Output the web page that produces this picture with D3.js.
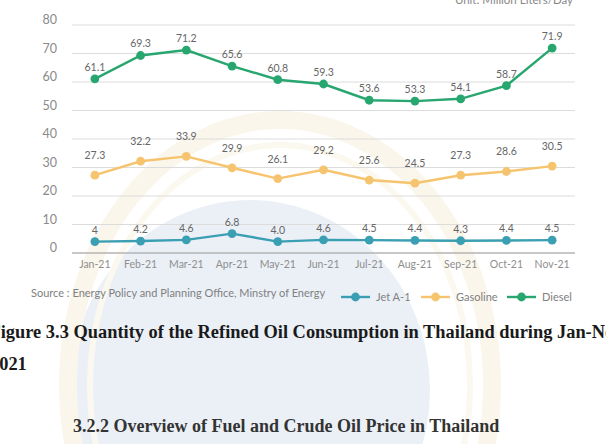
<!DOCTYPE html>
<html lang="en">
<head>
  <meta charset="UTF-8">
  <title>Refined Oil Consumption in Thailand</title>
  <script src="https://d3js.org/d3.v7.min.js"></script>
  <style>
    body { margin: 0; background: #fff; }
    svg { display: block; }
  </style>
</head>
<body>
  <svg width="606" height="444"></svg>
  <script>
    const width = 606, height = 444;

    const months = ["Jan-21", "Feb-21", "Mar-21", "Apr-21", "May-21", "Jun-21",
                    "Jul-21", "Aug-21", "Sep-21", "Oct-21", "Nov-21"];
    const jetA1 = [4, 4.2, 4.6, 6.8, 4.0, 4.6, 4.5, 4.4, 4.3, 4.4, 4.5];
    const jetLabels = ["4", "4.2", "4.6", "6.8", "4.0", "4.6", "4.5", "4.4", "4.3", "4.4", "4.5"];
    const gasoline = [27.3, 32.2, 33.9, 29.9, 26.1, 29.2, 25.6, 24.5, 27.3, 28.6, 30.5];
    const diesel = [61.1, 69.3, 71.2, 65.6, 60.8, 59.3, 53.6, 53.3, 54.1, 58.7, 71.9];
    const yTicks = [0, 10, 20, 30, 40, 50, 60, 70, 80];

    const series = [
      { name: "Jet A-1", values: jetA1, labels: jetLabels, color: "#3a9fb3", off: 8 },
      { name: "Gasoline", values: gasoline, labels: gasoline.map(d => d.toFixed(1)), color: "#f6c46e", off: 16 },
      { name: "Diesel", values: diesel, labels: diesel.map(d => d.toFixed(1)), color: "#28a66f", off: 8 }
    ];

    const svg = d3.select("svg");

    // faint watermark behind the page
    const wm = svg.append("g");
    wm.append("ellipse")
      .attr("cx", 250).attr("cy", 390).attr("rx", 180).attr("ry", 190)
      .attr("fill", "#ebf0f7");
    wm.append("ellipse")
      .attr("cx", 280).attr("cy", 385).attr("rx", 212).attr("ry", 265)
      .attr("fill", "none").attr("stroke", "#faf6eb").attr("stroke-width", 18);
    wm.append("ellipse")
      .attr("cx", 280).attr("cy", 385).attr("rx", 190).attr("ry", 240)
      .attr("fill", "none").attr("stroke", "#fbf8ef").attr("stroke-width", 6);

    const x = d3.scalePoint().domain(months).range([72, 575]).padding(0.5);
    const y = d3.scaleLinear().domain([0, 80]).range([253, 25]);

    // grid
    svg.append("g")
      .selectAll("line")
      .data(yTicks)
      .join("line")
      .attr("x1", 72).attr("x2", 575)
      .attr("y1", d => y(d)).attr("y2", d => y(d))
      .attr("stroke", d => d === 0 ? "#b5b5b5" : "#dcdcdc")
      .attr("stroke-width", d => d === 0 ? 1.6 : 1);

    // y tick labels
    svg.append("g")
      .selectAll("text")
      .data(yTicks)
      .join("text")
      .attr("x", 57)
      .attr("y", d => y(d) - 1)
      .attr("text-anchor", "end")
      .attr("font-family", "Lato, sans-serif")
      .attr("font-size", "12.5px")
      .attr("fill", "#8a8a8a")
      .text(d => d);

    // x labels
    svg.append("g")
      .selectAll("text")
      .data(months)
      .join("text")
      .attr("x", d => x(d))
      .attr("y", 268)
      .attr("text-anchor", "middle")
      .attr("font-family", "Lato, sans-serif")
      .attr("font-size", "10.5px")
      .attr("fill", "#8e8e8e")
      .text(d => d);

    svg.append("text")
      .attr("x", 573).attr("y", 4)
      .attr("text-anchor", "end")
      .attr("font-family", "Lato, sans-serif")
      .attr("font-size", "11.5px")
      .attr("fill", "#888")
      .text("Unit: Million Liters/Day");

    const line = d3.line().x((d, i) => x(months[i])).y(d => y(d));

    series.forEach(s => {
      const g = svg.append("g");
      g.append("path")
        .attr("d", line(s.values))
        .attr("fill", "none")
        .attr("stroke", s.color)
        .attr("stroke-width", 2.4);
      g.selectAll("circle")
        .data(s.values)
        .join("circle")
        .attr("cx", (d, i) => x(months[i]))
        .attr("cy", d => y(d))
        .attr("r", 4.4)
        .attr("fill", s.color);
      g.selectAll("text")
        .data(s.values)
        .join("text")
        .attr("x", (d, i) => x(months[i]))
        .attr("y", d => y(d) - s.off)
        .attr("text-anchor", "middle")
        .attr("font-family", "Lato, sans-serif")
        .attr("font-size", "10.5px")
        .attr("fill", "#666")
        .text((d, i) => s.labels[i]);
    });

    // source
    svg.append("text")
      .attr("x", 31).attr("y", 297)
      .attr("font-family", "Lato, sans-serif")
      .attr("font-size", "11px")
      .attr("fill", "#808080")
      .text("Source : Energy Policy and Planning Office, Minstry of Energy");

    // legend
    const legendX = [341, 421, 507];
    const legend = svg.append("g");
    series.forEach((s, i) => {
      const lg = legend.append("g").attr("transform", `translate(${legendX[i]},297)`);
      lg.append("line").attr("x1", 0).attr("x2", 29).attr("y1", 0).attr("y2", 0)
        .attr("stroke", s.color).attr("stroke-width", 2.4);
      lg.append("circle").attr("cx", 14.5).attr("cy", 0).attr("r", 4.4).attr("fill", s.color);
      lg.append("text").attr("x", 35).attr("y", 4)
        .attr("font-family", "Lato, sans-serif")
        .attr("font-size", "11px")
        .attr("fill", "#808080")
        .text(s.name);
    });

    // document text
    const serif = "'Liberation Serif', 'Times New Roman', serif";
    svg.append("text")
      .attr("x", -10.5).attr("y", 338)
      .attr("font-family", serif).attr("font-weight", "bold")
      .attr("font-size", "18.4px").attr("fill", "#1a1a1a")
      .text("Figure 3.3 Quantity of the Refined Oil Consumption in Thailand during Jan-Nov");
    svg.append("text")
      .attr("x", -10).attr("y", 370)
      .attr("font-family", serif).attr("font-weight", "bold")
      .attr("font-size", "18.4px").attr("fill", "#1a1a1a")
      .text("2021");
    svg.append("text")
      .attr("x", 73).attr("y", 432)
      .attr("font-family", serif).attr("font-weight", "bold")
      .attr("font-size", "18px").attr("fill", "#333")
      .text("3.2.2 Overview of Fuel and Crude Oil Price in Thailand");
  </script>
</body>
</html>
